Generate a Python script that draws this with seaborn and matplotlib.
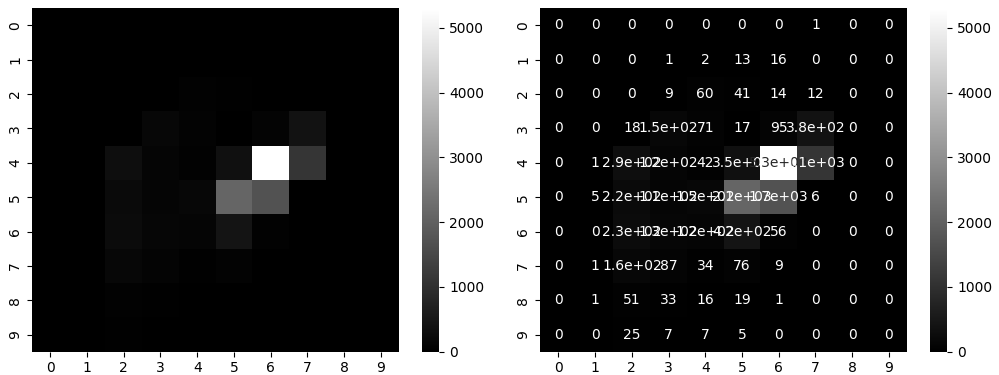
import numpy as np
import pandas as pd
import matplotlib
matplotlib.use("Agg")
import matplotlib.pyplot as plt
import seaborn as sns

row_0 = [0, 0, 0, 0, 0, 0, 0, 1, 0, 0]
row_1 = [0, 0, 0, 1, 2, 13, 16, 0, 0, 0]
row_2 = [0, 0, 0, 9, 60, 41, 14, 12, 0, 0]
row_3 = [0, 0, 18, 150, 71, 17, 95, 380, 0, 0]
row_4 = [0, 1, 290, 120, 42, 350, 5300, 1100, 0, 0]
row_5 = [0, 5, 220, 110, 150, 2100, 1700, 6, 0, 0]
row_6 = [0, 0, 230, 130, 120, 420, 56, 0, 0, 0]
row_7 = [0, 1, 160, 87, 34, 76, 9, 0, 0, 0]
row_8 = [0, 1, 51, 33, 16, 19, 1, 0, 0, 0]
row_9 = [0, 0, 25, 7, 7, 5, 0, 0, 0, 0]

data = np.array([row_0, row_1, row_2, row_3, row_4,
                 row_5, row_6, row_7, row_8, row_9], dtype=float)

fig, axes = plt.subplots(1, 2, figsize=(9.99, 3.75), dpi=100)
sns.heatmap(data, ax=axes[0], cmap="gray")
sns.heatmap(data, ax=axes[1], cmap="gray", annot=True)
fig.subplots_adjust(left=0.032, right=1.0, bottom=0.062, top=0.978, wspace=0.107)
fig.savefig("out.png", dpi=100)
